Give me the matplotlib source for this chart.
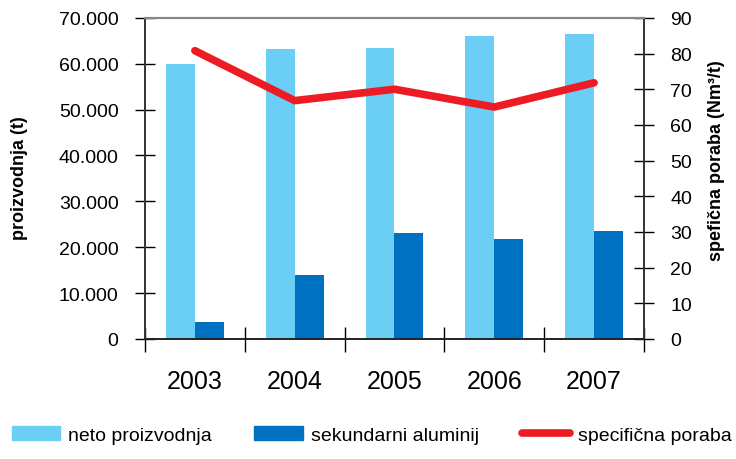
import matplotlib
matplotlib.use('Agg')
import matplotlib.pyplot as plt
import numpy as np
from matplotlib.patches import Patch
from matplotlib.lines import Line2D

plt.rcParams['font.family'] = ['Liberation Sans', 'DejaVu Sans']

# podatki
years = ['2003', '2004', '2005', '2006', '2007']
neto = [60000, 63300, 63500, 66100, 66500]
sekundarni = [3700, 14000, 23100, 21800, 23500]
poraba = [80.8, 66.8, 70.0, 65.0, 71.8]

c_light = '#6acef5'
c_dark = '#0070c0'
c_red = '#ed1c24'

fig = plt.figure(figsize=(7.36, 4.6), dpi=100)
ax = fig.add_axes([0.197, 0.261, 0.678, 0.698])
ax2 = ax.twinx()

x = np.arange(len(years))
w = 0.29
ax.bar(x - w / 2, neto, width=w, color=c_light, zorder=2)
ax.bar(x + w / 2, sekundarni, width=w, color=c_dark, zorder=2)
ax2.plot(x, poraba, color=c_red, lw=5.5, solid_capstyle='round',
         solid_joinstyle='round', zorder=3)

ax.set_xlim(-0.5, len(years) - 0.5)
ax.set_ylim(0, 70000)
ax2.set_ylim(0, 90)

ax.set_yticks(np.arange(0, 70001, 10000))
ax.set_yticklabels(['0'] + ['%d.000' % v for v in range(10, 71, 10)])
ax2.set_yticks(np.arange(0, 91, 10))

# kategorije: oznake na sredini, crtice na mejah
ax.set_xticks(x)
ax.set_xticklabels(years, fontsize=18)
ax.tick_params(axis='x', which='major', length=0, pad=22)
ax.set_xticks(np.arange(-0.5, len(years), 1), minor=True)
ax.tick_params(axis='x', which='minor', direction='inout', length=18, width=1)

ax.tick_params(axis='y', direction='inout', length=14, width=1,
               labelsize=14, pad=12)
ax2.tick_params(axis='y', direction='inout', length=14, width=1,
                labelsize=14, pad=12)

for a in (ax, ax2):
    a.spines['top'].set_color('#888888')
    a.spines['top'].set_linewidth(1.5)
    a.spines['left'].set_color('#333333')
    a.spines['right'].set_color('#333333')
    a.spines['bottom'].set_color('#222222')
    a.spines['left'].set_linewidth(1.2)
    a.spines['right'].set_linewidth(1.2)
    a.spines['bottom'].set_linewidth(1.2)

ax.set_ylabel('proizvodnja (t)', fontsize=13, fontweight='bold')
ax.yaxis.set_label_coords(-0.234, 0.505)
ax2.set_ylabel('spefična poraba (Nm³/t)', fontsize=13, fontweight='bold',
               rotation=90)
ax2.yaxis.set_label_coords(1.128, 0.558)

handles = [Patch(color=c_light), Patch(color=c_dark),
           Line2D([0], [0], color=c_red, lw=5.5, solid_capstyle='round')]
labels = ['neto proizvodnja', 'sekundarni aluminij', 'specifična poraba']
fig.legend(handles, labels, loc='lower center', bbox_to_anchor=(0.505, -0.005),
           ncol=3, frameon=False, fontsize=14, handlelength=2.5,
           handleheight=0.75, columnspacing=2.2, handletextpad=0.4)

fig.savefig('out.png', dpi=100)
